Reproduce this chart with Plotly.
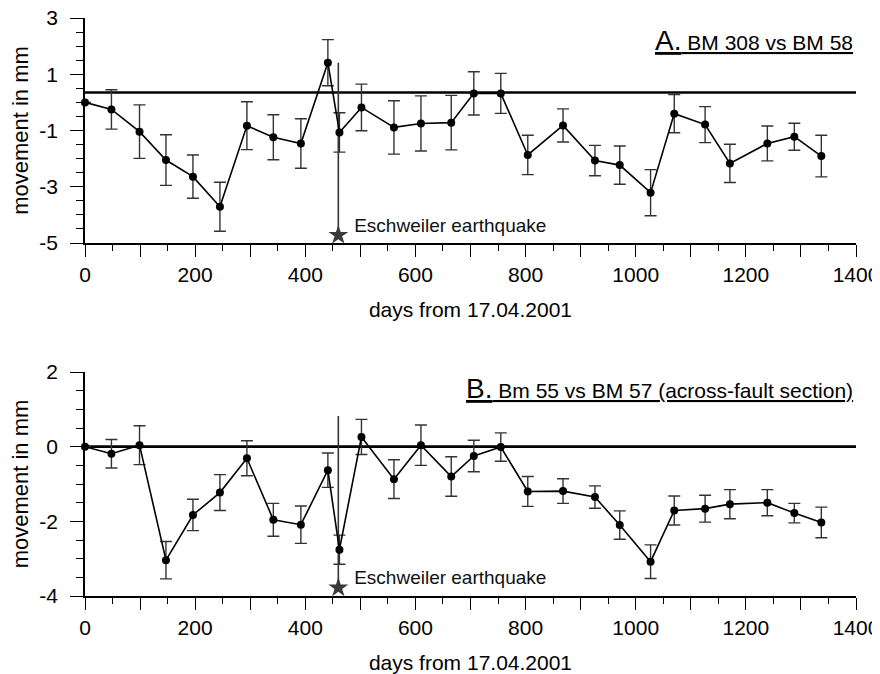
import plotly.graph_objects as go

# ---- data ----
days = [0, 48, 99, 147, 196, 245, 294, 342, 392, 441, 462, 502, 561, 610,
        665, 706, 755, 804, 868, 926, 971, 1027, 1070, 1126, 1171, 1239, 1288, 1337]

a_values = [0.0, -0.25, -1.04, -2.05, -2.64, -3.71, -0.83, -1.24, -1.46, 1.41,
            -1.07, -0.18, -0.89, -0.75, -0.72, 0.32, 0.32, -1.87, -0.82, -2.07,
            -2.23, -3.21, -0.40, -0.79, -2.17, -1.46, -1.22, -1.91]
a_errors = [0.0, 0.70, 0.95, 0.90, 0.77, 0.87, 0.85, 0.80, 0.88, 0.82,
            0.70, 0.83, 0.95, 0.98, 0.97, 0.77, 0.71, 0.70, 0.59, 0.54,
            0.68, 0.82, 0.68, 0.64, 0.68, 0.62, 0.48, 0.74]

b_values = [0.0, -0.19, 0.04, -3.04, -1.83, -1.23, -0.31, -1.96, -2.09, -0.63,
            -2.76, 0.26, -0.87, 0.04, -0.80, -0.25, -0.01, -1.20, -1.19, -1.35,
            -2.10, -3.08, -1.71, -1.66, -1.54, -1.50, -1.78, -2.03]
b_errors = [0.0, 0.38, 0.52, 0.50, 0.42, 0.48, 0.47, 0.44, 0.50, 0.46,
            0.39, 0.47, 0.52, 0.54, 0.53, 0.42, 0.38, 0.40, 0.33, 0.30,
            0.38, 0.45, 0.39, 0.36, 0.39, 0.35, 0.26, 0.41]

x_range = [0, 1400]
a_baseline = 0.35
b_baseline = 0.0
quake_day = 460
a_quake_span = [1.41, -4.72]
b_quake_span = [0.82, -3.78]
a_label_y = -4.45
b_label_y = -3.55

x_tickvals = list(range(0, 1401, 100))
x_ticktext = [str(v) if v % 200 == 0 else "" for v in x_tickvals]
a_tickvals = [3, 1, -1, -3, -5]
a_ticktext = ["3", "1", "-1", "-3", "-5"]
b_tickvals = [2, 0, -2, -4]
b_ticktext = ["2", "0", "-2", "-4"]

FONT = "Liberation Sans, Arial, sans-serif"

# page body has an 8px margin; lay out the figure in the remaining area
OFF = 8
W, H = 880 - OFF, 674 - OFF


def px_x(p):
    return (p - OFF) / W


def px_y(p):
    return 1 - (p - OFF) / H


fig = go.Figure()


def add_panel(xa, ya, values, errors, baseline, span, label_y):
    fig.add_trace(go.Scatter(x=x_range, y=[baseline, baseline], mode="lines",
                             line=dict(color="black", width=2.6),
                             xaxis=xa, yaxis=ya, showlegend=False, hoverinfo="skip"))
    fig.add_trace(go.Scatter(x=[quake_day, quake_day], y=span, mode="lines",
                             line=dict(color="#333333", width=1.6),
                             xaxis=xa, yaxis=ya, showlegend=False, hoverinfo="skip"))
    fig.add_trace(go.Scatter(x=[quake_day], y=[span[1]], mode="markers",
                             marker=dict(symbol="star", size=15, color="#3a3a3a"),
                             xaxis=xa, yaxis=ya, showlegend=False,
                             cliponaxis=False, hoverinfo="skip"))
    fig.add_trace(go.Scatter(x=[quake_day], y=[label_y], mode="text",
                             text=["   Eschweiler earthquake"], textposition="middle right",
                             textfont=dict(family=FONT, size=19, color="#111111"),
                             xaxis=xa, yaxis=ya, showlegend=False, cliponaxis=False,
                             hoverinfo="skip"))
    fig.add_trace(go.Scatter(x=days, y=values, mode="lines+markers",
                             line=dict(color="black", width=1.6),
                             marker=dict(color="black", size=8),
                             error_y=dict(type="data", array=errors, visible=True,
                                          color="#333333", thickness=1.4, width=6),
                             xaxis=xa, yaxis=ya, showlegend=False, cliponaxis=False))


add_panel("x", "y", a_values, a_errors, a_baseline, a_quake_span, a_label_y)
add_panel("x2", "y2", b_values, b_errors, b_baseline, b_quake_span, b_label_y)

xdom = [px_x(85), px_x(856)]
common_x = dict(range=x_range, domain=xdom, showline=True, linecolor="black", linewidth=1.6,
                automargin=False, ticklabeloverflow="allow",
                ticks="outside", ticklen=12, tickwidth=1.4, tickcolor="black",
                tickmode="array", tickvals=x_tickvals, ticktext=x_ticktext,
                tickfont=dict(family=FONT, size=21, color="black"),
                showgrid=False, zeroline=False,
                minor=dict(tickmode="linear", tick0=0, dtick=50, ticks="outside",
                           ticklen=6, tickwidth=1.4, tickcolor="black", showgrid=False),
                title=dict(text="days from 17.04.2001",
                           font=dict(family=FONT, size=21, color="black"), standoff=17))
common_y = dict(showline=True, linecolor="black", linewidth=1.6, automargin=False,
                ticklabeloverflow="allow",
                ticks="outside", ticklen=13, tickwidth=1.4, tickcolor="black",
                tickmode="array",
                tickfont=dict(family=FONT, size=21, color="black"),
                showgrid=False, zeroline=False, ticklabelstandoff=8,
                minor=dict(tickmode="linear", tick0=0, dtick=0.5, ticks="outside",
                           ticklen=7, tickwidth=1.4, tickcolor="black", showgrid=False),
                title=dict(text="movement in mm",
                           font=dict(family=FONT, size=22, color="black"), standoff=6))

fig.update_layout(
    width=W, height=H,
    margin=dict(l=0, r=0, t=0, b=0, autoexpand=False),
    paper_bgcolor="white", plot_bgcolor="white",
    xaxis=dict(common_x, anchor="y"),
    yaxis=dict(common_y, range=[-5, 3], tickvals=a_tickvals, ticktext=a_ticktext,
               domain=[px_y(243), px_y(18)], anchor="x"),
    xaxis2=dict(common_x, anchor="y2"),
    yaxis2=dict(common_y, range=[-4, 2], tickvals=b_tickvals, ticktext=b_ticktext,
                domain=[px_y(596), px_y(372)], anchor="x2"),
)

fig.add_annotation(xref="paper", yref="paper", x=px_x(855), y=px_y(40),
                   xanchor="right", yanchor="middle", showarrow=False,
                   text="<u><span style='font-size:28px'>A.</span> BM 308 vs BM 58</u>",
                   font=dict(family=FONT, size=21, color="black"))
fig.add_annotation(xref="paper", yref="paper", x=px_x(855), y=px_y(388),
                   xanchor="right", yanchor="middle", showarrow=False,
                   text="<u><span style='font-size:28px'>B.</span> Bm 55 vs BM 57 (across-fault section)</u>",
                   font=dict(family=FONT, size=21, color="black"))

fig.write_html("out.html")
